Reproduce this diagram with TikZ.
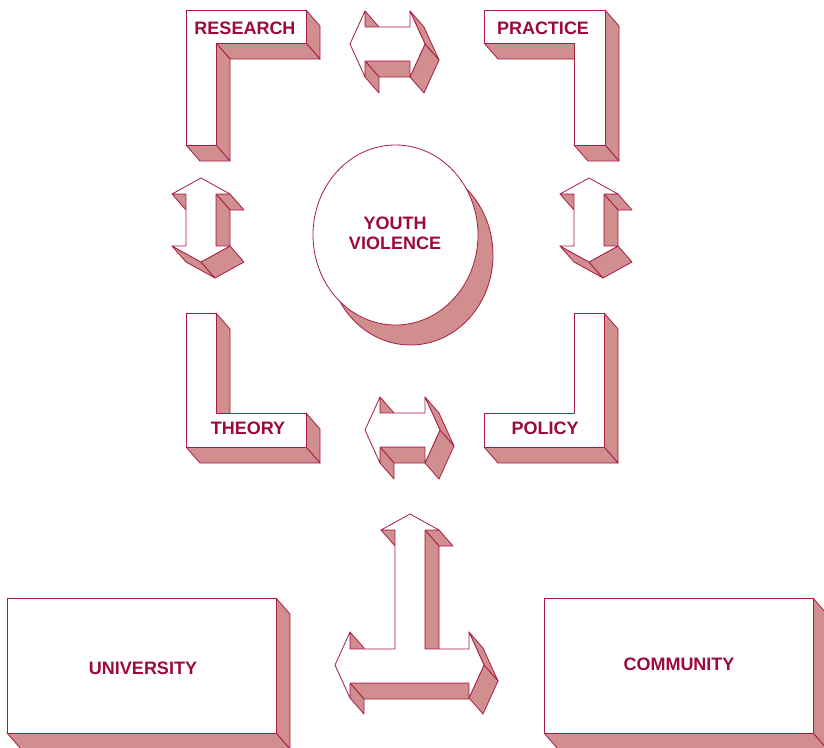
\documentclass[tikz,border=0pt]{standalone}
\usepackage{fontspec}
\setmainfont{Liberation Sans}
\definecolor{edgecol}{RGB}{168,28,68}
\definecolor{shadecol}{RGB}{208,142,142}
\definecolor{textcol}{RGB}{158,10,56}
\begin{document}
\begin{tikzpicture}[x=1pt,y=-1pt,
  face/.style={fill=shadecol,draw=edgecol,line width=0.8pt,line join=round},
  front/.style={fill=white,draw=edgecol,line width=0.8pt,line join=round},
  lbl/.style={text=textcol,font=\fontsize{18}{21}\selectfont\bfseries,inner sep=0pt,align=center}]
\useasboundingbox (0,0) rectangle (824,747);
\fill[white] (0,0) rectangle (824,747);

% RESEARCH
\draw[face] (306,10)--(320,26)--(320,59)--(306,43)--cycle;
\draw[face] (216,43)--(306,43)--(320,59)--(230,59)--cycle;
\draw[face] (216,43)--(230,59)--(230,161)--(216,145)--cycle;
\draw[face] (186,145)--(216,145)--(230,161)--(200,161)--cycle;
\draw[front] (186,10)--(306,10)--(306,43)--(216,43)--(216,145)--(186,145)--cycle;
\node[lbl] (research) at (245,28) {RESEARCH};

% PRACTICE
\draw[face] (605,10)--(619,26)--(619,161)--(605,145)--cycle;
\draw[face] (574,145)--(605,145)--(619,161)--(588,161)--cycle;
\draw[face] (484,43)--(574,43)--(588,59)--(498,59)--cycle;
\draw[front] (484,10)--(605,10)--(605,145)--(574,145)--(574,43)--(484,43)--cycle;
\node[lbl] (practice) at (543,28) {PRACTICE};

% THEORY
\draw[face] (216,313)--(230,329)--(230,429)--(216,413)--cycle;
\draw[face] (306,413)--(320,429)--(320,463)--(306,447)--cycle;
\draw[face] (186,447)--(306,447)--(320,463)--(200,463)--cycle;
\draw[front] (186,313)--(216,313)--(216,413)--(306,413)--(306,447)--(186,447)--cycle;
\node[lbl] (theory) at (248,428) {THEORY};

% POLICY
\draw[face] (604,313)--(618,329)--(618,463)--(604,447)--cycle;
\draw[face] (484,447)--(604,447)--(618,463)--(498,463)--cycle;
\draw[front] (574,313)--(604,313)--(604,447)--(484,447)--(484,413)--(574,413)--cycle;
\node[lbl] (policy) at (545,428) {POLICY};

% horizontal double arrows
\foreach \dx/\dy in {0/0, 15/386}{
\begin{scope}[shift={(\dx,\dy)}]
\draw[face] (365,11)--(365,27)--(379,43)--(379,27)--cycle;
\draw[face] (365,61)--(410,61)--(424,77)--(379,77)--cycle;
\draw[face] (365,61)--(365,77)--(379,93)--(379,77)--cycle;
\draw[face] (410,11)--(425,44)--(439,60)--(424,27)--cycle;
\draw[face] (425,44)--(410,77)--(424,93)--(439,60)--cycle;
\draw[front] (350,44)--(365,11)--(365,27)--(410,27)--(410,11)--(425,44)--(410,77)--(410,61)--(365,61)--(365,77)--cycle;
\end{scope}}

% vertical double arrows
\foreach \dx in {0,388}{
\begin{scope}[shift={(\dx,0)}]
\draw[face] (172,194)--(186,194)--(200,210)--(186,210)--cycle;
\draw[face] (216,194)--(230,194)--(244,210)--(230,210)--cycle;
\draw[face] (216,194)--(230,210)--(230,262)--(216,246)--cycle;
\draw[face] (172,246)--(201,262)--(215,278)--(186,262)--cycle;
\draw[face] (201,262)--(230,246)--(244,262)--(215,278)--cycle;
\draw[front] (201,178)--(230,194)--(216,194)--(216,246)--(230,246)--(201,262)--(172,246)--(186,246)--(186,194)--(172,194)--cycle;
\end{scope}}

% central circle
\draw[face] (410.5,255) ellipse [x radius=82.5, y radius=90];
\draw[front] (395.5,235) ellipse [x radius=82.5, y radius=90];
\node[lbl] (youth) at (395,233) {YOUTH\\[-1pt]VIOLENCE};

% T arrow
\draw[face] (381,530)--(395,530)--(409,546)--(395,546)--cycle;
\draw[face] (425,530)--(439,530)--(453,546)--(439,546)--cycle;
\draw[face] (425,530)--(439,546)--(439,665)--(425,649)--cycle;
\draw[face] (350,632)--(350,649)--(364,665)--(364,648)--cycle;
\draw[face] (350,683)--(469,683)--(483,699)--(364,699)--cycle;
\draw[face] (350,683)--(350,698)--(364,714)--(364,699)--cycle;
\draw[face] (469,632)--(484,665)--(498,681)--(483,648)--cycle;
\draw[face] (484,665)--(469,698)--(483,714)--(498,681)--cycle;
\draw[front] (410,514)--(439,530)--(425,530)--(425,649)--(469,649)--(469,632)--(484,665)--(469,698)--(469,683)--(350,683)--(350,698)--(335,665)--(350,632)--(350,649)--(395,649)--(395,530)--(381,530)--cycle;

% UNIVERSITY box
\draw[face] (276,598)--(290,614)--(290,749)--(276,733)--cycle;
\draw[face] (7,733)--(276,733)--(290,749)--(21,749)--cycle;
\draw[front] (7,598) rectangle (276,733);
\node[lbl] (university) at (143,668) {UNIVERSITY};

% COMMUNITY box
\draw[face] (813,598)--(827,614)--(827,749)--(813,733)--cycle;
\draw[face] (544,733)--(813,733)--(827,749)--(558,749)--cycle;
\draw[front] (544,598) rectangle (813,733);
\node[lbl] (community) at (679,664) {COMMUNITY};
\end{tikzpicture}
\end{document}
